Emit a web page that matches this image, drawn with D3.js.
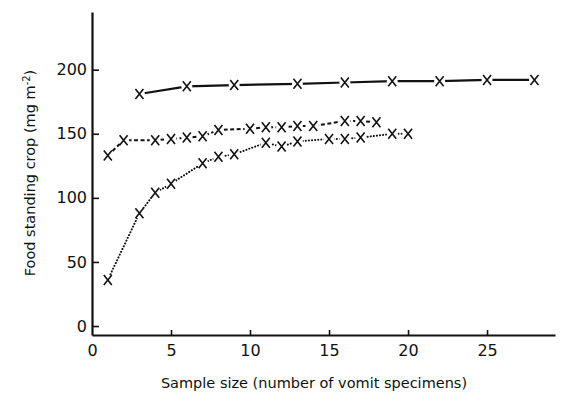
<!DOCTYPE html>
<html>
<head>
<meta charset="utf-8">
<script src="https://cdn.jsdelivr.net/npm/d3@7"></script>
<style>
  body { margin: 0; background: #fff; }
  text { font-family: "DejaVu Sans", sans-serif; fill: #111; }
</style>
</head>
<body>
<div id="chart"></div>
<script>
// sample sizes and standing crop estimates for the three curves
var solidX  = [3, 6, 9, 13, 16, 19, 22, 25, 28];
var solidY  = [181, 187, 188, 189, 190, 191, 191, 192, 192];
var dashX   = [1, 2, 4, 5, 6, 7, 8, 10, 11, 12, 13, 14, 16, 17, 18];
var dashY   = [133, 145, 145, 146, 147, 148, 153, 154, 155, 155, 156, 156, 160, 160, 159];
var dotX    = [1, 3, 4, 5, 7, 8, 9, 11, 12, 13, 15, 16, 17, 19, 20];
var dotY    = [36, 88, 104, 111, 127, 132, 134, 143, 140, 144, 146, 146, 147, 150, 150];
var xTicks  = [0, 5, 10, 15, 20, 25];
var yTicks  = [0, 50, 100, 150, 200];

var width = 562, height = 394;

var svg = d3.select("#chart").append("svg")
    .attr("width", width)
    .attr("height", height);

// scales, the y axis starts a bit below zero like the printed figure
var x = d3.scaleLinear().domain([0, 29.3]).range([92, 555]);
var y = d3.scaleLinear().domain([-7, 245]).range([335, 12]);

// x axis with ticks pointing inward
var xAxis = svg.append("g")
    .attr("transform", "translate(0," + y(-7) + ")")
    .call(d3.axisBottom(x)
        .tickValues(xTicks)
        .tickSizeInner(-5)
        .tickSizeOuter(0)
        .tickPadding(10));

var yAxis = svg.append("g")
    .attr("transform", "translate(" + x(0) + ",0)")
    .call(d3.axisLeft(y)
        .tickValues(yTicks)
        .tickSizeInner(-7)
        .tickSizeOuter(0)
        .tickPadding(5));

[xAxis, yAxis].forEach(function(a){
  a.select(".domain").attr("stroke", "#111").attr("stroke-width", 2.2);
  a.selectAll(".tick line").attr("stroke", "#111").attr("stroke-width", 1.6);
  a.selectAll(".tick text")
      .style("font-size", "16px")
      .style("font-family", "DejaVu Sans, sans-serif")
      .attr("fill", "#111");
});
// no tick mark at the origin on the x axis
xAxis.selectAll(".tick").filter(d => d === 0).select("line").remove();

// axis titles
svg.append("text")
    .attr("x", 314)
    .attr("y", 388)
    .attr("text-anchor", "middle")
    .style("font-size", "14.5px")
    .text("Sample size (number of vomit specimens)");

var yLab = svg.append("text")
    .attr("transform", "translate(35,173) rotate(-90)")
    .attr("text-anchor", "middle")
    .style("font-size", "14.5px");
yLab.append("tspan").text("Food standing crop (mg m");
yLab.append("tspan").attr("dy", -5).style("font-size", "10px").text("-2");
yLab.append("tspan").attr("dy", 5).text(")");

var line = d3.line()
    .x(d => x(d[0]))
    .y(d => y(d[1]));

var series = [
  {xs: solidX, ys: solidY, width: 2.2, dash: null, cap: "butt"},
  {xs: dashX,  ys: dashY,  width: 2,   dash: "4,2.5", cap: "butt"},
  {xs: dotX,   ys: dotY,   width: 2,   dash: "0.1,3", cap: "round"}
];

series.forEach(function(s){
  var pts = s.xs.map((v, i) => [v, s.ys[i]]);
  svg.append("path")
      .attr("d", line(pts))
      .attr("fill", "none")
      .attr("stroke", "#111")
      .attr("stroke-width", s.width)
      .attr("stroke-linecap", s.cap)
      .attr("stroke-dasharray", s.dash);
});

// markers sit in a small white gap so the lines stop short of them
series.forEach(function(s){
  var pts = s.xs.map((v, i) => [v, s.ys[i]]);
  var m = svg.append("g").selectAll("g")
      .data(pts)
      .enter().append("g")
      .attr("transform", d => "translate(" + x(d[0]) + "," + y(d[1]) + ")");
  m.append("circle").attr("r", 5.5).attr("fill", "#fff");
  m.append("path")
      .attr("d", "M-4,-5L4,5M-4,5L4,-5")
      .attr("stroke", "#111")
      .attr("stroke-width", 1.6)
      .attr("fill", "none");
});
</script>
</body>
</html>
